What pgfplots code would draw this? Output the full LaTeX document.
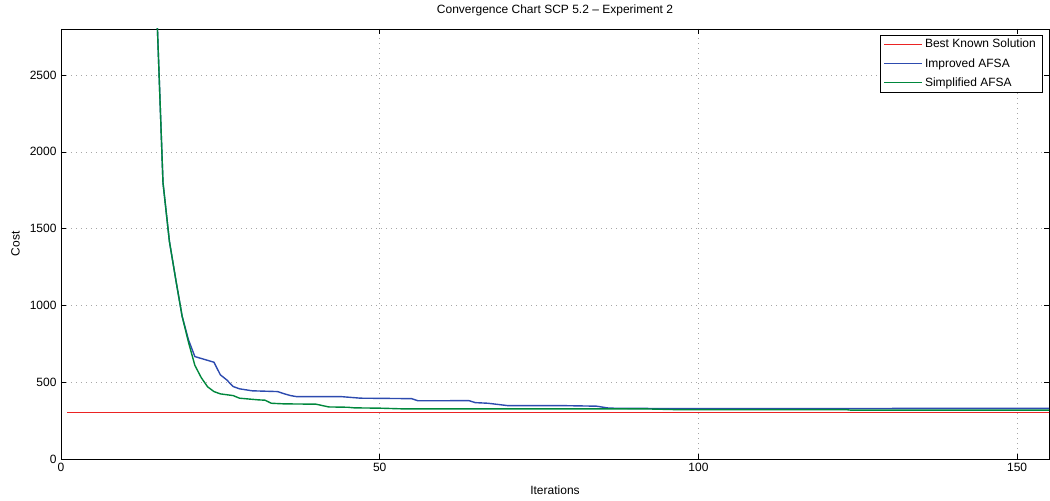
\documentclass[border=0pt]{standalone}
\usepackage{pgfplots}
\pgfplotsset{compat=1.18}
\usepackage{fontspec}
\setmainfont{Liberation Sans}
\definecolor{mred}{RGB}{235,35,35}
\definecolor{mblue}{RGB}{45,75,175}
\definecolor{mgreen}{RGB}{0,135,60}
\begin{document}
\begin{tikzpicture}
\begin{axis}[
  name=ax,
  scale only axis,
  width=988bp, height=430bp,
  xmin=0, xmax=155, ymin=0, ymax=2800,
  xtick={0,50,100,150},
  ytick={0,500,1000,1500,2000,2500},
  tick align=inside,
  major tick length=5bp,
  tick style={black, line width=0.5bp},
  axis line style={black, line width=0.9bp},
  grid=major,
  major grid style={gray!70, line width=0.6bp, dash pattern=on 1bp off 4bp},
  /pgf/number format/assume math mode=true,
  /pgf/number format/set thousands separator={},
  ticklabel style={font=\fontsize{12bp}{14bp}\selectfont},
  xticklabel style={yshift=-1bp},
  yticklabel style={xshift=-1bp},
  title={Convergence Chart SCP 5.2 – Experiment 2},
  title style={at={(axis description cs:0.5,1.021)}, anchor=base, inner sep=0pt, font=\fontsize{12bp}{14bp}\selectfont},
  xlabel={Iterations},
  xlabel style={at={(axis description cs:0.5,-0.0814)}, anchor=base, inner sep=0pt, font=\fontsize{12bp}{14bp}\selectfont},
  ylabel={Cost},
  ylabel style={at={(axis description cs:-0.0415,0.5)}, anchor=south, rotate=0, inner sep=0pt, font=\fontsize{12bp}{14bp}\selectfont},
  legend style={at={(rel axis cs:0.9929,0.986)}, anchor=north east, fill=white, draw=black,
    font=\fontsize{12bp}{14bp}\selectfont, inner xsep=4bp, inner ysep=2bp, row sep=5bp},
  legend cell align=left,
  legend image code/.code={\draw[#1] (0bp,0bp) -- (38bp,0bp);},
]
\addlegendimage{color=mred, line width=1.3bp}
\addlegendentry{Best Known Solution}
\addlegendimage{color=mblue, line width=1.3bp}
\addlegendentry{Improved AFSA}
\addlegendimage{color=mgreen, line width=1.3bp}
\addlegendentry{Simplified AFSA}
\addplot[color=mred, line width=1.4bp, forget plot] coordinates {(1,301) (156,301)};
\addplot[color=mblue, line width=1.4bp, forget plot] coordinates {
(1,15000) (5,12000) (10,8000) (13,5000) (14,3900) (15,2950) (16,1800) (17,1420) (18,1170) (19,930) (20,776) (21,667)
(24,630) (25,548) (26,515) (27,472) (28,457) (30,444) (34,439) (35,425) (36,413) (37,406) (44,406) (47,396)
(55,393) (56,379) (64,380) (65,367) (67,363) (70,348) (78,348) (84,344) (86,331) (96,328) (155,330)
};
\addplot[color=mgreen, line width=1.4bp, forget plot] coordinates {
(1,15000) (5,12000) (10,8000) (13,5000) (14,3900) (15,2950) (16,1800) (17,1420) (18,1170) (19,930) (20,760) (21,610)
(22,530) (23,470) (24,439) (25,424) (27,413) (28,396) (31,385) (32,383) (33,363) (35,359) (40,357) (42,339)
(45,337) (46,333) (50,331) (54,326) (92,326) (96,322) (123,322) (124,318) (155,318)
};
\end{axis}
\pgfresetboundingbox
\path[use as bounding box] ([shift={(-61bp,-42bp)}]ax.south west) rectangle ([shift={(1bp,29bp)}]ax.north east);
\end{tikzpicture}
\end{document}
